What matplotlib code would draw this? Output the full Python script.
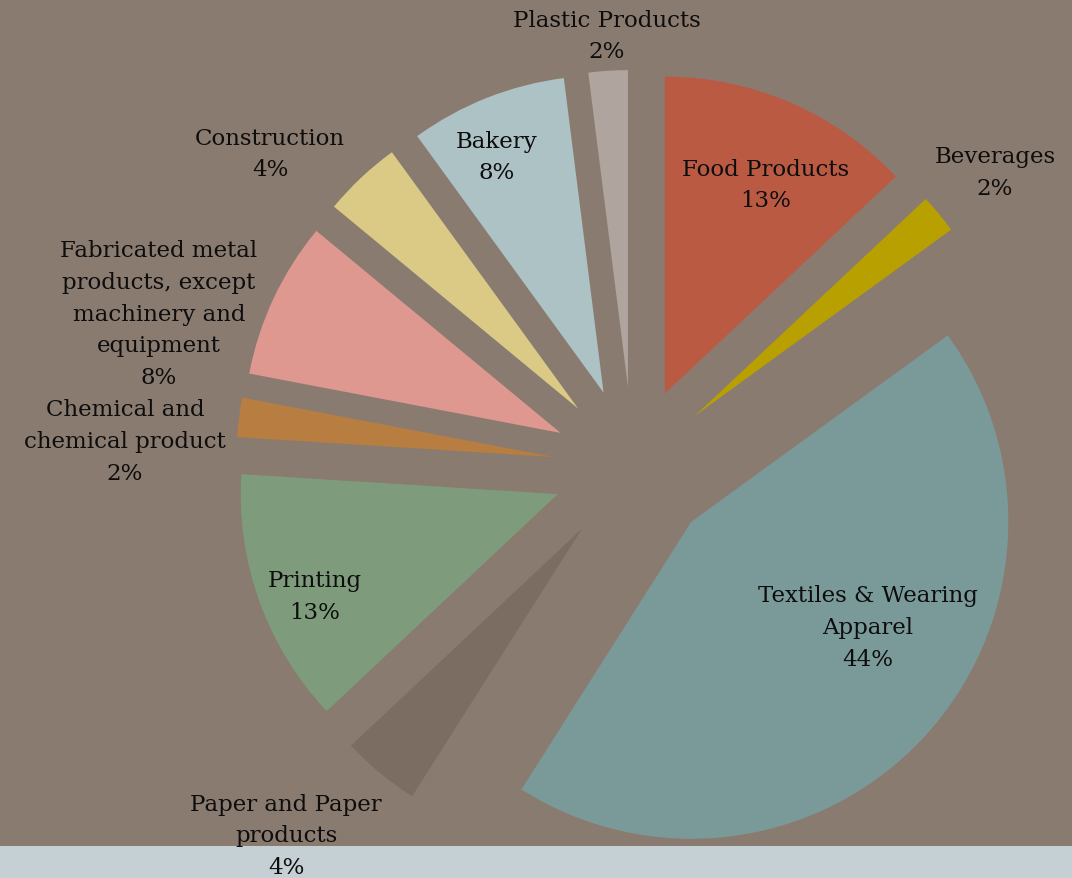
import matplotlib
matplotlib.use("Agg")
import matplotlib.pyplot as plt
from matplotlib.patches import Rectangle

# Manufacturing sector shares (%), clockwise from 12 o'clock
categories = [
    "Food Products",
    "Beverages",
    "Textiles & Wearing\nApparel",
    "Paper and Paper\nproducts",
    "Printing",
    "Chemical and\nchemical product",
    "Fabricated metal\nproducts, except\nmachinery and\nequipment",
    "Construction",
    "Bakery",
    "Plastic Products",
]
shares = [13, 2, 44, 4, 13, 2, 8, 4, 8, 2]

colors = [
    "#BA5A43", "#B8A000", "#7A9A9A", "#7C6D63", "#7E9C7C",
    "#B87D40", "#DE9890", "#DACA85", "#ADC2C5", "#AFA49E",
]

BG = "#8A7B71"
STRIP = "#C5D0D5"
W, H = 1072, 879

fig = plt.figure(figsize=(W / 100, H / 100), dpi=100, facecolor=BG)
ax = fig.add_axes([0, 0, 1, 1])

# light band along the bottom edge
ax.add_patch(Rectangle((0, 0), W, 32, facecolor=STRIP, edgecolor="none", zorder=0))

radius = 317
ax.pie(
    shares,
    colors=colors,
    startangle=90,
    counterclock=False,
    radius=radius,
    center=(633, H - 468),
    explode=[80] * len(shares),   # offset in data units (pixels here)
    wedgeprops=dict(linewidth=0),
    frame=True,
)
ax.set_xlim(0, W)
ax.set_ylim(0, H)
ax.axis("off")

# label block centres (pixels from top-left)
label_pos = [
    (766, 185.5), (995, 173), (868, 628), (286, 836.5), (315, 597),
    (125, 442), (159, 314.5), (270, 154.5), (497, 157.5), (607, 36.5),
]

for name, v, (x, y) in zip(categories, shares, label_pos):
    ax.text(x, H - y, f"{name}\n{v}%", ha="center", va="center",
            fontsize=16.5, family="DejaVu Serif", color="#0d0d0d",
            linespacing=1.57, zorder=5)

fig.savefig("out.png", dpi=100, facecolor=BG)
